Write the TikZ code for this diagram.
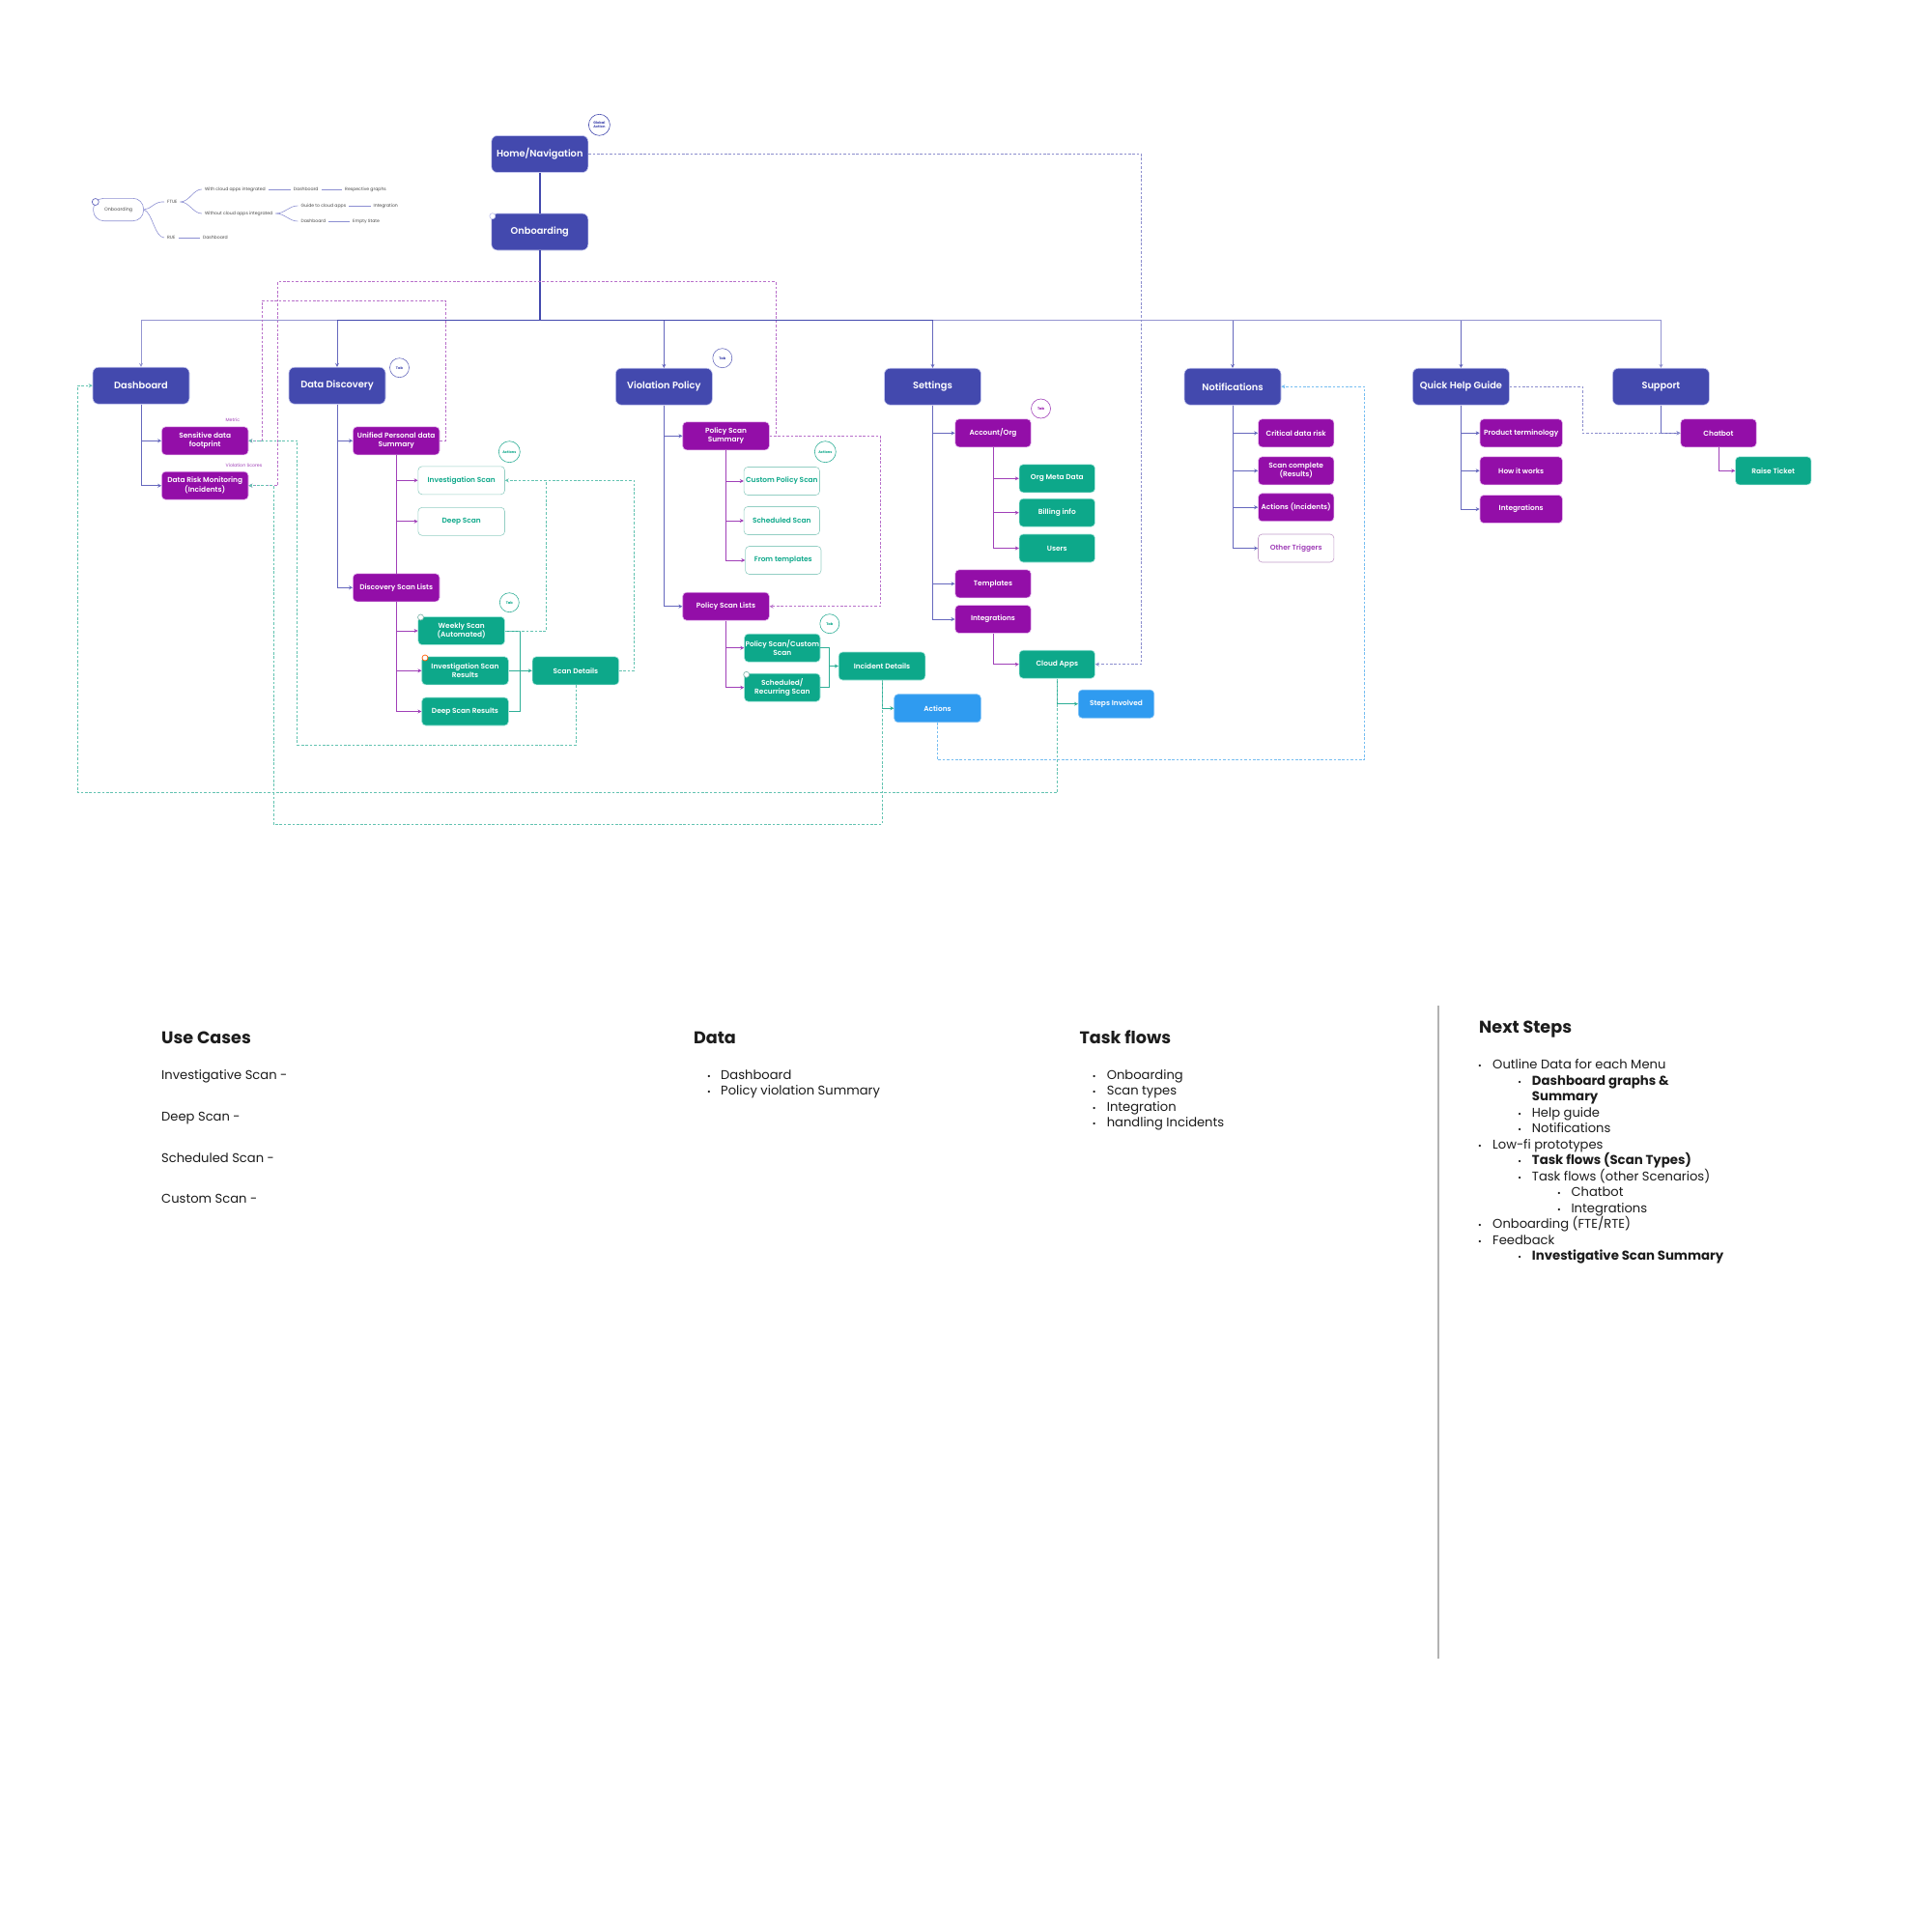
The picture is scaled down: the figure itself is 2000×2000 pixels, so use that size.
\documentclass[tikz,border=0pt]{standalone}
\usepackage{fontspec}
\usetikzlibrary{arrows.meta}
\setmainfont{Poppins}
\newfontfamily\med{Poppins Medium}
\newfontfamily\semi{Poppins SemiBold}
\definecolor{navc}{HTML}{4349AE}
\definecolor{navl}{HTML}{C3C6EE}
\definecolor{magc}{HTML}{930EA8}
\definecolor{magl}{HTML}{E6B8EE}
\definecolor{grnc}{HTML}{0DA88A}
\definecolor{grnl}{HTML}{A5E6DA}
\definecolor{bluc}{HTML}{2F9BF0}
\definecolor{linen}{HTML}{6668BE}
\definecolor{linem}{HTML}{A040B8}
\definecolor{lineg}{HTML}{2FAF97}
\definecolor{lineb}{HTML}{55AEEE}
\definecolor{ink}{HTML}{1C1C1C}
\definecolor{minil}{HTML}{8C8FD2}
\tikzset{
  base/.style={rounded corners=4pt,align=center,inner sep=0pt,text=white,font=\fontsize{7.4}{8.8}\selectfont\semi,line width=.6pt},
  nav/.style={base,fill=navc,draw=navl,minimum width=100pt,minimum height=38pt,rounded corners=6pt,font=\fontsize{9.8}{12}\selectfont\semi},
  mg/.style={base,fill=magc,draw=magl},
  gn/.style={base,fill=grnc,draw=grnl},
  bl/.style={base,fill=bluc,draw=bluc!60},
  og/.style={base,fill=white,draw=grnl!90!black,text=grnc},
  om/.style={base,fill=white,draw=magl!85!black,text=linem},
  wa/.style={minimum width=89.6pt,minimum height=29pt},
  wb/.style={minimum width=78.4pt,minimum height=29pt},
  wc/.style={minimum width=85.4pt,minimum height=29pt},
  tagc/.style={circle,draw,fill=white,inner sep=0pt,align=center,line width=.6pt,font=\fontsize{3.6}{4}\selectfont\bfseries},
  dotc/.style={circle,draw,fill=white,inner sep=0pt,minimum size=6pt,line width=.7pt},
  tip/.style={-{Stealth[length=4pt,width=4pt]}},
  ln/.style={draw=linen,line width=.9pt},
  lm/.style={draw=linem,line width=.9pt},
  lg/.style={draw=lineg,line width=.9pt},
  dashp/.style={line width=.8pt,dash pattern=on 2.6pt off 1.8pt},
  dn/.style={dashp,draw=linen!75},
  dm/.style={dashp,draw=linem!75},
  dg/.style={dashp,draw=lineg!75},
  db/.style={dashp,draw=lineb!80},
  mini/.style={inner sep=3pt,anchor=west,text=ink!80,text height=3.4pt,text depth=1pt,font=\fontsize{4.6}{5}\selectfont},
  minl/.style={draw=minil,line width=.6pt},
  note/.style={inner sep=0pt,anchor=west,text=linem,font=\fontsize{4.7}{5}\selectfont},
  body/.style={inner sep=0pt,anchor=base west,yshift=-4.5pt,text=ink,font=\fontsize{13.1}{15}\selectfont},
  bold/.style={inner sep=0pt,anchor=base west,yshift=-4.5pt,text=ink,font=\fontsize{13.3}{15}\selectfont\bfseries},
  head/.style={inner sep=0pt,anchor=base west,yshift=-6pt,text=ink,font=\fontsize{17.6}{20}\selectfont\bfseries},
  bull/.style={inner sep=0pt,anchor=base,yshift=-4.5pt,text=ink,font=\fontsize{9}{10}\selectfont},
}
\begin{document}
\begin{tikzpicture}[x=1pt,y=-1pt]
\useasboundingbox[fill=white] (0,0) rectangle (2000,2000);
% main nodes
\node[nav] (home) at (558.8,159.5) {Home/Navigation};
\node[nav] (onb) at (558.8,240) {Onboarding};
\coordinate (bus) at (558.8,331.7);
\node[nav] (dash) at (146,399.2) {Dashboard};
\node[nav] (disc) at (349,399.2) {Data Discovery};
\node[nav] (viol) at (687.3,400.2) {Violation Policy};
\node[nav] (sett) at (965.5,400.2) {Settings};
\node[nav] (noti) at (1276,400.2) {Notifications};
\node[nav] (quick) at (1512.4,400.2) {Quick Help Guide};
\node[nav] (supp) at (1719.4,400.2) {Support};
% dashboard
\node[mg,wa] (sens) at (212.2,456.3) {Sensitive data\\footprint};
\node[mg,wa] (risk) at (212.2,502.7) {Data Risk Monitoring\\(Incidents)};
\node[note] (nmetric) at (233.5,435) {Metric};
\node[note] (nviol) at (233.5,482) {Violation Scores};
% discovery
\node[mg,wa] (unif) at (410.2,456.3) {Unified Personal data\\Summary};
\node[mg,wa] (disl) at (410.2,608.3) {Discovery Scan Lists};
\node[og,wa] (invs) at (477.7,497.3) {Investigation Scan};
\node[og,wa] (deep) at (477.7,539.8) {Deep Scan};
\node[gn,wa] (week) at (477.7,653) {Weekly Scan\\(Automated)};
\node[gn,wa] (isr) at (481.5,694.3) {Investigation Scan\\Results};
\node[gn,wa] (dsr) at (481.5,736.5) {Deep Scan Results};
\node[gn,wa] (sdet) at (595.9,694.3) {Scan Details};
% violation
\node[mg,wa] (pss) at (751.5,451.3) {Policy Scan\\Summary};
\node[mg,wa] (psl) at (751.5,627.7) {Policy Scan Lists};
\node[og,wb] (cps) at (809.3,498) {Custom Policy Scan};
\node[og,wb] (sch) at (809.3,539) {Scheduled Scan};
\node[og,wb] (fromt) at (810.8,580) {From templates};
\node[gn,wb] (pcs) at (809.8,670.7) {Policy Scan/Custom\\Scan};
\node[gn,wb] (srs) at (809.8,711.7) {Scheduled/\\Recurring Scan};
\node[gn,wa] (inc) at (913,689.5) {Incident Details};
\node[bl,wa] (act) at (970.5,733.2) {Actions};
% settings
\node[mg,wb] (acc) at (1028,448.3) {Account/Org};
\node[gn,wb] (org) at (1094.3,495.3) {Org Meta Data};
\node[gn,wb] (bill) at (1094.3,530.7) {Billing info};
\node[gn,wb] (usr) at (1094.3,567.5) {Users};
\node[mg,wb] (tmpl) at (1028,604.3) {Templates};
\node[mg,wb] (integ) at (1028,641) {Integrations};
\node[gn,wb] (cloud) at (1094.3,687.7) {Cloud Apps};
\node[bl,wb] (steps) at (1155.5,728.7) {Steps Involved};
% notifications
\node[mg,wb] (crit) at (1341.7,448.3) {Critical data risk};
\node[mg,wb] (scomp) at (1341.7,487.3) {Scan complete\\(Results)};
\node[mg,wb] (aci) at (1341.7,525.2) {Actions (Incidents)};
\node[om,wb] (oth) at (1341.7,567.5) {Other Triggers};
% help
\node[mg,wc] (prod) at (1574.7,448.3) {Product terminology};
\node[mg,wc] (how) at (1574.7,487.3) {How it works};
\node[mg,wc] (qint) at (1574.7,527) {Integrations};
\node[mg,wb] (chat) at (1779,448.3) {Chatbot};
\node[gn,wb] (raise) at (1835.7,487.3) {Raise Ticket};
% tags
\node[tagc,draw=navc,text=navc,minimum size=22pt] (tglobal) at (620.4,129.3) {Global\\Action};
\node[tagc,draw=navc!80,text=navc,minimum size=20pt] (ttab1) at (413.5,380.7) {Tab};
\node[tagc,draw=navc!80,text=navc,minimum size=20pt] (ttab2) at (747.8,370.7) {Tab};
\node[tagc,draw=lineg,text=grnc,minimum size=22pt] (tact1) at (527.3,467.7) {Actions};
\node[tagc,draw=lineg,text=grnc,minimum size=22pt] (tact2) at (854.3,467.7) {Actions};
\node[tagc,draw=lineg,text=grnc,minimum size=20pt] (ttab3) at (527.3,623.7) {Tab};
\node[tagc,draw=lineg,text=grnc,minimum size=20pt] (ttab4) at (858.8,645.7) {Tab};
\node[tagc,draw=linem,text=magc,minimum size=20pt] (ttab5) at (1077.5,423) {Tab};
% connectors, nav
\draw[draw=navc,line width=1.8pt] (home.south) -- (onb.north);
\draw[draw=navc,line width=1.8pt] (onb.south) -- (bus);
\draw[ln,tip,draw=linen!70] (bus) -| (dash.north);
\draw[ln,tip] (bus) -| (disc.north);
\draw[ln,tip] (bus) -| (viol.north);
\draw[ln,tip] (bus) -| (sett.north);
\draw[ln,tip] (bus) -| (noti.north);
\draw[ln,tip] (bus) -| (quick.north);
\draw[ln,tip,draw=linen!70] (bus) -| (supp.north);
\draw[draw=navc,line width=1.3pt] (disc.north |- bus) -- (sett.north |- bus);
\draw[ln,tip] (dash.south) |- (sens.west);
\draw[ln,tip] (dash.south) |- (risk.west);
\draw[ln,tip] (disc.south) |- (unif.west);
\draw[ln,tip] (disc.south) |- (disl.west);
\draw[ln,tip] (viol.south) |- (pss.west);
\draw[ln,tip] (viol.south) |- (psl.west);
\draw[ln,tip] (sett.south) |- (acc.west);
\draw[ln,tip] (sett.south) |- (tmpl.west);
\draw[ln,tip] (sett.south) |- (integ.west);
\draw[ln,tip] (noti.south) |- (crit.west);
\draw[ln,tip] (noti.south) |- (scomp.west);
\draw[ln,tip] (noti.south) |- (aci.west);
\draw[ln,tip] (noti.south) |- (oth.west);
\draw[ln,tip] (quick.south) |- (prod.west);
\draw[ln,tip] (quick.south) |- (how.west);
\draw[ln,tip] (quick.south) |- (qint.west);
\draw[ln,tip] (supp.south) |- (chat.west);
% connectors, magenta
\draw[lm] (unif.south) -- (disl.north);
\draw[lm,tip] (unif.south) |- (invs.west);
\draw[lm,tip] (unif.south) |- (deep.west);
\draw[lm,tip] (disl.south) |- (week.west);
\draw[lm,tip] (disl.south) |- (isr.west);
\draw[lm,tip] (disl.south) |- (dsr.west);
\draw[lm,tip] (pss.south) |- (cps.west);
\draw[lm,tip] (pss.south) |- (sch.west);
\draw[lm,tip] (pss.south) |- (fromt.west);
\draw[lm,tip] (psl.south) |- (pcs.west);
\draw[lm,tip] (psl.south) |- (srs.west);
\draw[lm,tip] (acc.south) |- (org.west);
\draw[lm,tip] (acc.south) |- (bill.west);
\draw[lm,tip] (acc.south) |- (usr.west);
\draw[lm,tip] (integ.south) |- (cloud.west);
\draw[lm,tip] (chat.south) |- (raise.west);
% connectors, green
\draw[lg] (week.east) -- (538.8,653) -- (538.8,736.5) -- (dsr.east);
\draw[lg,tip] (isr.east) -- (sdet.west);
\draw[lg] (pcs.east) -- (858.4,670.7) -- (858.4,711.7) -- (srs.east);
\draw[lg,tip] (858.4,689.5) -- (inc.west);
\draw[lg,tip] (inc.south) |- (act.west);
\draw[lg,tip] (cloud.south) |- (steps.west);
% dashed
\draw[dn,tip] (home.east) -- (1181.6,159.5) -- (1181.6,687.7) -- (cloud.east);
\draw[dm,tip] (pss.east) -- (802.9,451.3) -- (802.9,291.7) -- (287.3,291.7) -- (287.3,502.7) -- (risk.east);
\draw[dm,tip] (unif.east) -- (461.2,456.3) -- (461.2,310.9) -- (271.4,310.9) -- (271.4,456.3) -- (sens.east);
\draw[dm,tip] (pss.east) -- (911.4,451.3) -- (911.4,627.7) -- (psl.east);
\draw[dg,tip] (sdet.south) -- (595.9,771) -- (307.8,771) -- (307.8,456.3) -- (sens.east);
\draw[dg,tip] (sdet.east) -- (656.7,694.3) -- (656.7,497.3) -- (invs.east);
\draw[dg] (week.east) -- (565.3,653) -- (565.3,497.3);
\draw[dg,tip] (inc.south) -- (913,853.3) -- (282.9,853.3) -- (282.9,502.7) -- (risk.east);
\draw[dg,tip] (cloud.south) -- (1094.3,820.7) -- (80.4,820.7) -- (80.4,399.2) -- (dash.west);
\draw[db,tip] (act.south) -- (970.5,786.7) -- (1412.6,786.7) -- (1412.6,400.2) -- (noti.east);
\draw[dn,tip] (quick.east) -- (1638,400.2) -- (1638,448.3) -- (chat.west);
% dots
\node[dotc,draw=navl] (d1) at (509.8,223.7) {};
\node[dotc,draw=grnl!80!black] (d2) at (435.5,639) {};
\node[dotc,draw=orange!70!red] (d3) at (440,681) {};
\node[dotc,draw=grnl!80!black] (d4) at (772.7,698.3) {};
% mini tree
\node[draw=minil,fill=white,rounded corners=11pt,minimum width=52pt,minimum height=23.4pt,inner sep=0pt,line width=.6pt,text=ink!80,font=\fontsize{4.8}{5}\selectfont] (mon) at (122.6,217) {Onboarding};
\node[dotc,draw=linen,minimum size=7pt] (d5) at (98.8,209) {};
\node[mini] (mftue) at (170,209) {FTUE};
\node[mini] (mrue) at (170,246) {RUE};
\node[mini] (mr2) at (206.8,246) {Dashboard};
\node[mini] (mwith) at (208.8,196) {With cloud apps integrated};
\node[mini] (mw2) at (300.7,196) {Dashboard};
\node[mini] (mw3) at (354,196) {Respective graphs};
\node[mini] (mwo) at (208.8,221) {Without cloud apps integrated};
\node[mini] (mg1) at (308.4,213) {Guide to cloud apps};
\node[mini] (mg2) at (383.5,213) {Integration};
\node[mini] (md1) at (308.4,229) {Dashboard};
\node[mini] (md2) at (362,229) {Empty State};
\draw[minl] (mon.east) .. controls (156,217) and (160,208) .. (mftue.west);
\draw[minl] (mon.east) .. controls (158,220) and (160,246) .. (mrue.west);
\draw[minl] (mftue.east) .. controls (196,209) and (200,196) .. (mwith.west);
\draw[minl] (mftue.east) .. controls (196,209) and (200,221) .. (mwo.west);
\draw[minl] (mwo.east) .. controls (295,221) and (299,213) .. (mg1.west);
\draw[minl] (mwo.east) .. controls (295,221) and (299,229) .. (md1.west);
\draw[minl] (mrue.east) -- (mr2.west);
\draw[minl] (mwith.east) -- (mw2.west);
\draw[minl] (mw2.east) -- (mw3.west);
\draw[minl] (mg1.east) -- (mg2.west);
\draw[minl] (md1.east) -- (md2.west);
% lower text
\node[head] (huse) at (167,1074.7) {Use Cases};
\node[body] (u1) at (167,1112.7) {Investigative Scan -};
\node[body] (u2) at (167,1155.7) {Deep Scan -};
\node[body] (u3) at (167,1198.7) {Scheduled Scan -};
\node[body] (u4) at (167,1241.3) {Custom Scan -};
\node[head] (hdata) at (717.8,1074.7) {Data};
\node[bull] (bd1) at (734,1112.7) {•};
\node[body] (da1) at (746,1112.7) {Dashboard};
\node[bull] (bd2) at (734,1129) {•};
\node[body] (da2) at (746,1129) {Policy violation Summary};
\node[head] (htask) at (1117.3,1074.7) {Task flows};
\node[bull] (bt1) at (1132.6,1112.7) {•};
\node[body] (ta1) at (1145.6,1112.7) {Onboarding};
\node[bull] (bt2) at (1132.6,1129) {•};
\node[body] (ta2) at (1145.6,1129) {Scan types};
\node[bull] (bt3) at (1132.6,1145.7) {•};
\node[body] (ta3) at (1145.6,1145.7) {Integration};
\node[bull] (bt4) at (1132.6,1162) {•};
\node[body] (ta4) at (1145.6,1162) {handling Incidents};
\coordinate (vt) at (1488.7,1041);
\coordinate (vb) at (1488.7,1717);
\draw[draw=black!30,line width=1.6pt] (vt) -- (vb);
\node[head] (hnext) at (1531,1063.3) {Next Steps};
\node[bull] (n1b) at (1532,1102.3) {•}; \node[body] (n1) at (1545,1102.3) {Outline Data for each Menu};
\node[bull] (n2b) at (1573.3,1119.3) {•}; \node[bold] (n2) at (1585.7,1119.3) {Dashboard graphs \&};
\node[bold] (n2c) at (1585.7,1135.3) {Summary};
\node[bull] (n3b) at (1573.3,1152.3) {•}; \node[body] (n3) at (1585.7,1152.3) {Help guide};
\node[bull] (n4b) at (1573.3,1168) {•}; \node[body] (n4) at (1585.7,1168) {Notifications};
\node[bull] (n5b) at (1532,1185.3) {•}; \node[body] (n5) at (1545,1185.3) {Low-fi prototypes};
\node[bull] (n6b) at (1573.3,1201.3) {•}; \node[bold] (n6) at (1585.7,1201.3) {Task flows (Scan Types)};
\node[bull] (n7b) at (1573.3,1218.3) {•}; \node[body] (n7) at (1585.7,1218.3) {Task flows (other Scenarios)};
\node[bull] (n8b) at (1614,1234.3) {•}; \node[body] (n8) at (1626.3,1234.3) {Chatbot};
\node[bull] (n9b) at (1614,1251.3) {•}; \node[body] (n9) at (1626.3,1251.3) {Integrations};
\node[bull] (n10b) at (1532,1267.3) {•}; \node[body] (n10) at (1545,1267.3) {Onboarding (FTE/RTE)};
\node[bull] (n11b) at (1532,1284.3) {•}; \node[body] (n11) at (1545,1284.3) {Feedback};
\node[bull] (n12b) at (1573.3,1300) {•}; \node[bold] (n12) at (1585.7,1300) {Investigative Scan Summary};
\end{tikzpicture}
\end{document}
